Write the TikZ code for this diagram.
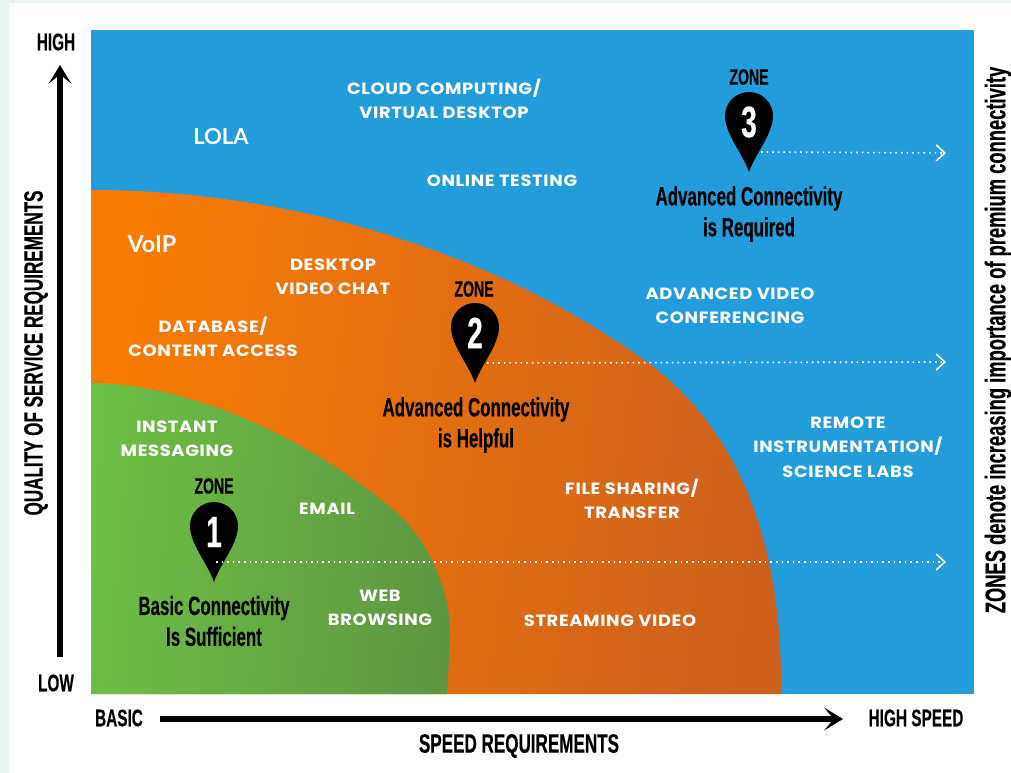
\documentclass[tikz,border=0pt]{standalone}
\usepackage{fontspec}
\usetikzlibrary{arrows.meta,fadings}
\setmainfont{Liberation Sans}
\newfontfamily\condfont[FakeStretch=0.64,BoldFeatures={FakeBold=0.3}]{Liberation Sans}
\newfontfamily\widefont[LetterSpace=4,FakeStretch=1.1]{Poppins}
\newfontfamily\bigfont{Lato}
\definecolor{mintbg}{HTML}{E6F4F2}
\definecolor{skyzone}{HTML}{229CDB}
\definecolor{orangeL}{HTML}{F87C04}
\definecolor{orangeR}{HTML}{CE601C}
\definecolor{greenL}{HTML}{6DBF46}
\definecolor{greenR}{HTML}{5C973F}
\tikzfading[name=pinfade,left color=transparent!100,middle color=transparent!0,right color=transparent!100]
\tikzset{
  lab/.style={text=white,inner sep=0pt,align=center,font=\widefont\bfseries\fontsize{12.2}{18.3}\selectfont},
  biglab/.style={text=white,inner sep=0pt,font=\bigfont\bfseries\fontsize{16.5}{20}\selectfont},
  axislab/.style={text=black,inner sep=0pt,font=\condfont\bfseries\fontsize{18}{20}\selectfont},
  axislong/.style={text=black,inner sep=0pt,font=\condfont\bfseries\fontsize{20}{20}\selectfont},
  zonecap/.style={text=black,inner sep=0pt,align=center,font=\condfont\bfseries\fontsize{19.8}{23.2}\selectfont},
  zoneword/.style={text=black,inner sep=0pt,font=\condfont\bfseries\fontsize{16.5}{20}\selectfont},
  bigarrow/.style={line width=4.6pt,-{Stealth[length=14pt,width=17pt,inset=7pt]}},
  dotline/.style={white,line width=1.2pt,dash pattern=on 1.2pt off 3pt,-{Straight Barb[length=6.5pt,width=12pt,line width=1.2pt]}},
  pics/mappin/.style={code={
    \fill[black,path fading=pinfade] (0,0) ellipse [x radius=28pt,y radius=1.8pt];
    \fill[black] (0,0) .. controls (-6,-18) and (-24,-38) .. (-24,-56)
       arc[start angle=180,end angle=360,radius=24]
       .. controls (24,-38) and (6,-18) .. (0,0) -- cycle;
    \node[text=white,inner sep=0pt,font=\condfont\bfseries\fontsize{33}{33}\selectfont] (-num) at (0,-50) {#1};
    \coordinate (-edge) at (12,-20);
    \coordinate (-inner) at (2,-20);
  }}
}
\begin{document}
\begin{tikzpicture}[x=.75pt,y=-.75pt]
\useasboundingbox (0,0) rectangle (1011,773);
\fill[mintbg] (0,0) rectangle (1011,773);
\fill[white] (9,3) rectangle (1011,773);
\fill[skyzone] (91,30) rectangle (974,694);
% orange zone
\shade[left color=orangeL,right color=orangeR,shading angle=82]
  (91,190) .. controls (260,190) and (470,235) .. (647,362)
  .. controls (725,420) and (783,520) .. (781,694) -- (91,694) -- cycle;
% green zone
\shade[left color=greenL,right color=greenR,shading angle=85]
  (91,383) .. controls (210,385) and (330,455) .. (397,513)
  .. controls (427,540) and (452,590) .. (450,640) -- (447,694) -- (91,694) -- cycle;

% axes
\coordinate (ylow) at (60,657);
\coordinate (yhigh) at (60,65);
\coordinate (xlow) at (160,719);
\coordinate (xhigh) at (843,719);
\draw[bigarrow] (ylow) -- (yhigh);
\draw[bigarrow] (xlow) -- (xhigh);

\node[axislab] (high) at (56,42) {HIGH};
\node[axislab] (low) at (56,683) {LOW};
\node[axislab] (basic) at (119,718) {BASIC};
\node[axislab] (highspeed) at (916,718) {HIGH SPEED};
\node[axislong] (speed) at (519,746) {SPEED REQUIREMENTS};
\node[axislong,rotate=90] (quality) at (36,353) {QUALITY OF SERVICE REQUIREMENTS};
\node[axislong,rotate=90,font=\condfont\bfseries\fontsize{21.5}{22}\selectfont] (zones) at (998,340) {ZONES denote increasing importance of premium connectivity};

% labels
\node[biglab] (lola) at (221,137) {LOLA};
\node[biglab,font=\bigfont\bfseries\fontsize{17.5}{20}\selectfont] (voip) at (152,244) {VoIP};
\node[lab] (cloud) at (444,99) {CLOUD COMPUTING/\\VIRTUAL DESKTOP};
\node[lab] (online) at (502,181) {ONLINE TESTING};
\node[lab] (desktop) at (333,277) {DESKTOP\\VIDEO CHAT};
\node[lab] (database) at (213,337) {DATABASE/\\CONTENT ACCESS};
\node[lab] (advvideo) at (730,306) {ADVANCED VIDEO\\CONFERENCING};
\node[lab] (remote) at (848,447) {REMOTE\\INSTRUMENTATION/\\SCIENCE LABS};
\node[lab] (file) at (632,499) {FILE SHARING/\\TRANSFER};
\node[lab] (stream) at (610,621) {STREAMING VIDEO};
\node[lab] (instant) at (177,439) {INSTANT\\MESSAGING};
\node[lab] (email) at (327,509) {EMAIL};
\node[lab] (web) at (380,608) {WEB\\BROWSING};

% zones
\node[zoneword] (z1) at (214,486) {ZONE};
\node[zoneword] (z2) at (474,289) {ZONE};
\node[zoneword] (z3) at (749,77) {ZONE};
\pic (p1) at (214,582) {mappin={1}};
\pic (p2) at (475,383) {mappin={2}};
\pic (p3) at (749,172) {mappin={3}};
\node[zonecap] (c1) at (214,621) {Basic Connectivity\\Is Sufficient};
\node[zonecap] (c2) at (476,425) {Advanced Connectivity\\is Helpful};
\node[zonecap] (c3) at (749,214) {Advanced Connectivity\\is Required};

\coordinate (e1) at (946,562);
\coordinate (e2) at (946,362);
\coordinate (e3) at (946,153);
\draw[dotline] (p1-inner) -- (e1);
\draw[dotline] (p2-edge) -- (e2);
\draw[dotline] (p3-edge) -- (e3);
\end{tikzpicture}
\end{document}
